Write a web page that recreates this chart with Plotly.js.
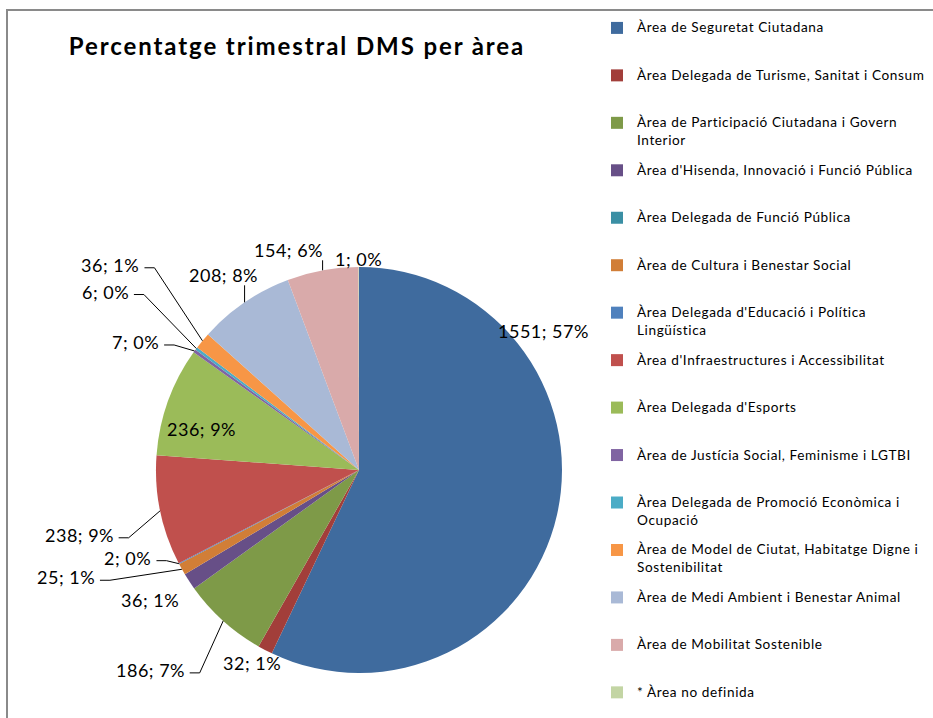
<!DOCTYPE html>
<html><head><meta charset="utf-8">
<script src="https://cdn.plot.ly/plotly-3.0.1.min.js"></script>
<style>
html,body{margin:0;padding:0;background:#fff}
#chart{width:933px;height:718px}
.legendtext{font-size:13.6px !important;letter-spacing:0.6px}
.gtitle{letter-spacing:1.9px}
.annotation-text{letter-spacing:0.5px}
</style>
</head><body><div id="chart"></div>
<script>
// ---------- data ----------
const categories = [
  "Àrea de Seguretat Ciutadana",
  "Àrea Delegada de Turisme, Sanitat i Consum",
  "Àrea de Participació Ciutadana i Govern<br>Interior",
  "Àrea d'Hisenda, Innovació i Funció Pública",
  "Àrea Delegada de Funció Pública",
  "Àrea de Cultura i Benestar Social",
  "Àrea Delegada d'Educació i Política<br>Lingüística",
  "Àrea d'Infraestructures i Accessibilitat",
  "Àrea Delegada d'Esports",
  "Àrea de Justícia Social, Feminisme i LGTBI",
  "Àrea Delegada de Promoció Econòmica i<br>Ocupació",
  "Àrea de Model de Ciutat, Habitatge Digne i<br>Sostenibilitat",
  "Àrea de Medi Ambient i Benestar Animal",
  "Àrea de Mobilitat Sostenible",
  "* Àrea no definida"
];
const values = [1551, 32, 186, 36, 0, 25, 2, 238, 236, 7, 6, 36, 208, 154, 1];
const titleText = "Percentatge trimestral DMS per àrea";

// ---------- styles ----------
const colors = ["#3F6B9E", "#A23E3A", "#7E9A48", "#674F87", "#3A8FA4", "#D17E37", "#4F81BD",
                "#C0504D", "#9BBB59", "#8064A2", "#4BACC6", "#F79646", "#A9B9D6", "#D9AAAA", "#C3D5A4"];
// label centre offset (px) from the slice's outer mid point, and leader type
const labelStyle = [
  {dx: -14, dy: -184, leader: null},
  {dx: -13, dy: 13, leader: null},
  {dx: -73, dy: 49, leader: "h"},
  {dx: -39, dy: 19, leader: null},
  null,
  {dx: -116, dy: 8, leader: "h"},
  {dx: -51, dy: -6, leader: "h"},
  {dx: -81, dy: 24, leader: "h"},
  {dx: 33, dy: 28, leader: null},
  {dx: -59, dy: -9, leader: "h"},
  {dx: -91, dy: -57, leader: "h"},
  {dx: -92, dy: -76, leader: "h"},
  {dx: -21, dy: -27, leader: "v"},
  {dx: -34, dy: -20, leader: "v"},
  {dx: 0, dy: -8, leader: null}
];
const W = 933, H = 718;
const CX = 359, CY = 470, R = 203;
const labelFont = {family: "Lato, 'Open Sans', sans-serif", size: 18, color: "#000"};
const labelSpacing = 0.5;

// ---------- build ----------
const total = values.reduce((a, b) => a + b, 0);
const px = x => x / W, py = y => 1 - y / H;
const ctx = document.createElement("canvas").getContext("2d");
ctx.font = labelFont.size + "px Lato";

// pad legend entries to equal height (3 lines) so spacing is uniform
const legendLabels = categories.map((c, i) => {
  const n = c.split("<br>").length;
  if (i === categories.length - 1) return c;
  return c + "<br>\u00a0".repeat(3 - n);
});

const annotations = [];
const shapes = [{
  type: "rect", xref: "paper", yref: "paper",
  x0: px(7), x1: 1.05, y0: -0.05, y1: py(10),
  line: {color: "#8a8a8a", width: 2}, fillcolor: "rgba(0,0,0,0)"
}];

let cum = 0;
values.forEach((v, i) => {
  const a0 = cum / total * 2 * Math.PI;
  cum += v;
  const a1 = cum / total * 2 * Math.PI;
  const st = labelStyle[i];
  if (!st) return;
  const am = (a0 + a1) / 2;
  const ax = CX + R * Math.sin(am), ay = CY - R * Math.cos(am);
  const tx = ax + st.dx, ty = ay + st.dy;
  const text = v + "; " + Math.round(v / total * 100) + "%";
  annotations.push({
    xref: "paper", yref: "paper", x: px(tx), y: py(ty),
    xanchor: "center", yanchor: "middle", text: text, showarrow: false, font: labelFont
  });
  if (st.leader === "h") {
    const w = ctx.measureText(text).width + labelSpacing * text.length;
    const sx = tx + w / 2 + 5, sy = ty + 3;
    shapes.push({
      type: "path", xref: "paper", yref: "paper",
      path: `M ${px(sx)} ${py(sy)} L ${px(sx + 10)} ${py(sy)} L ${px(ax)} ${py(ay)}`,
      line: {color: "#000", width: 1}
    });
  } else if (st.leader === "v") {
    shapes.push({
      type: "path", xref: "paper", yref: "paper",
      path: `M ${px(ax)} ${py(ty + 10)} L ${px(ax)} ${py(ay)}`,
      line: {color: "#000", width: 1}
    });
  }
});

const trace = {
  type: "pie",
  labels: legendLabels,
  values: values,
  sort: false,
  direction: "clockwise",
  rotation: 0,
  textinfo: "none",
  hoverinfo: "label+value+percent",
  marker: {colors: colors, line: {width: 0}},
  domain: {x: [px(CX - R), px(CX + R)], y: [py(CY + R), py(CY - R)]}
};

const layout = {
  width: W, height: H,
  margin: {l: 0, r: 0, t: 0, b: 0},
  paper_bgcolor: "#fff",
  font: {family: "Lato, 'Open Sans', sans-serif", color: "#000"},
  title: {
    text: "<b>" + titleText + "</b>",
    x: 297 / W, xanchor: "center", y: py(47), yanchor: "middle",
    font: {family: "Lato, sans-serif", size: 24, color: "#000"}
  },
  showlegend: true,
  legend: {
    x: px(597), xanchor: "left", y: py(14), yanchor: "top",
    valign: "top", bgcolor: "rgba(0,0,0,0)",
    font: {family: "Lato, sans-serif", size: 11.4, color: "#000"},
    maxheight: 718
  },
  annotations: annotations,
  shapes: shapes
};

Plotly.newPlot("chart", [trace], layout, {displayModeBar: false, staticPlot: true});
</script>
</body></html>
